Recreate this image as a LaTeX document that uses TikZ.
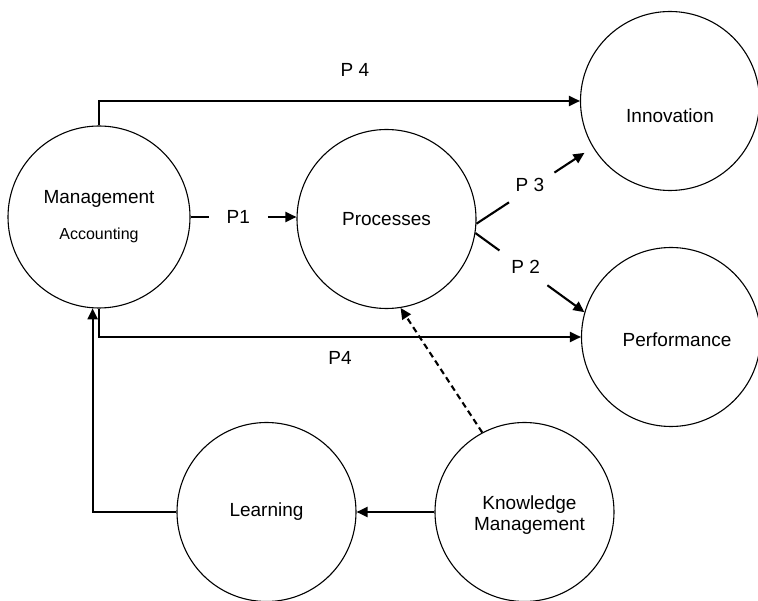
\documentclass[tikz,border=0pt]{standalone}
\usepackage{fontspec}
\setmainfont{Liberation Sans}
\usetikzlibrary{arrows.meta,calc}
\begin{document}
\begin{tikzpicture}[x=1pt,y=-1pt,
  circ/.style={circle,draw,line width=1.1pt,minimum size=179pt,inner sep=0pt,
    font=\fontsize{19}{22}\selectfont,align=center},
  conn/.style={line width=2.1pt},
  arr/.style={conn,-{Triangle[length=11pt,width=10pt]}},
  lbl/.style={font=\fontsize{19}{22}\selectfont,inner sep=0pt}]
\useasboundingbox (0,0) rectangle (758,601);

% circles
\node[circ,minimum size=182pt] (ma) at (99,217)
  {Management\\[14pt]{\fontsize{16}{18}\selectfont Accounting}};
\node[circ] (proc) at (386.5,219) {Processes};
\node[circ,label={[lbl,yshift=-15pt]center:Innovation}] (inn) at (670,101) {};
\node[circ,label={[lbl,xshift=6pt,yshift=-3pt]center:Performance}] (perf) at (671,337) {};
\node[circ] (learn) at (266.5,512) {Learning};
\node[circ,label={[lbl,align=center,font=\fontsize{19}{21.7}\selectfont,xshift=5pt,yshift=-3pt]center:Knowledge\\Management}] (km) at (524.5,512) {};

% P4 connectors
\draw[arr] (ma.north) |- (inn.west);
\node[lbl] (p4a) at (355,70) {P 4};
\draw[arr] (ma.south) |- (perf.west);
\node[lbl] (p4b) at (340,358) {P4};

% P1
\draw[conn] (ma.east) -- ($(ma.east)!0.17!(ma.east -| proc.west)$);
\draw[arr] ($(ma.east)!0.73!(ma.east -| proc.west)$) -- (ma.east -| proc.west);
\node[lbl] (p1) at ($(ma.east)!0.45!(ma.east -| proc.west)$) {P1};

% P3
\draw[conn] (proc.-3) -- ($(proc.-3)!0.28!(inn.211)$);
\draw[arr,shorten >=10pt] ($(proc.-3)!0.67!(inn.211)$) -- (inn.211);
\node[lbl] (p3) at ($(proc.-3)!0.46!(inn.211)+(0,-4)$) {P 3};

% P2
\draw[conn] (proc.-9) -- ($(proc.-9)!0.22!(perf.164)$);
\draw[arr] ($(proc.-9)!0.66!(perf.164)$) -- (perf.164);
\node[lbl] (p2) at ($(proc.-9)!0.46!(perf.164)+(0,-3)$) {P 2};

% lower connectors
\draw[arr] (learn.west) -| (ma.-94);
\draw[arr] (km.west) -- (learn.east);
\draw[arr,dash pattern=on 6pt off 4pt] (km.118) -- (proc.-81);
\end{tikzpicture}
\end{document}
